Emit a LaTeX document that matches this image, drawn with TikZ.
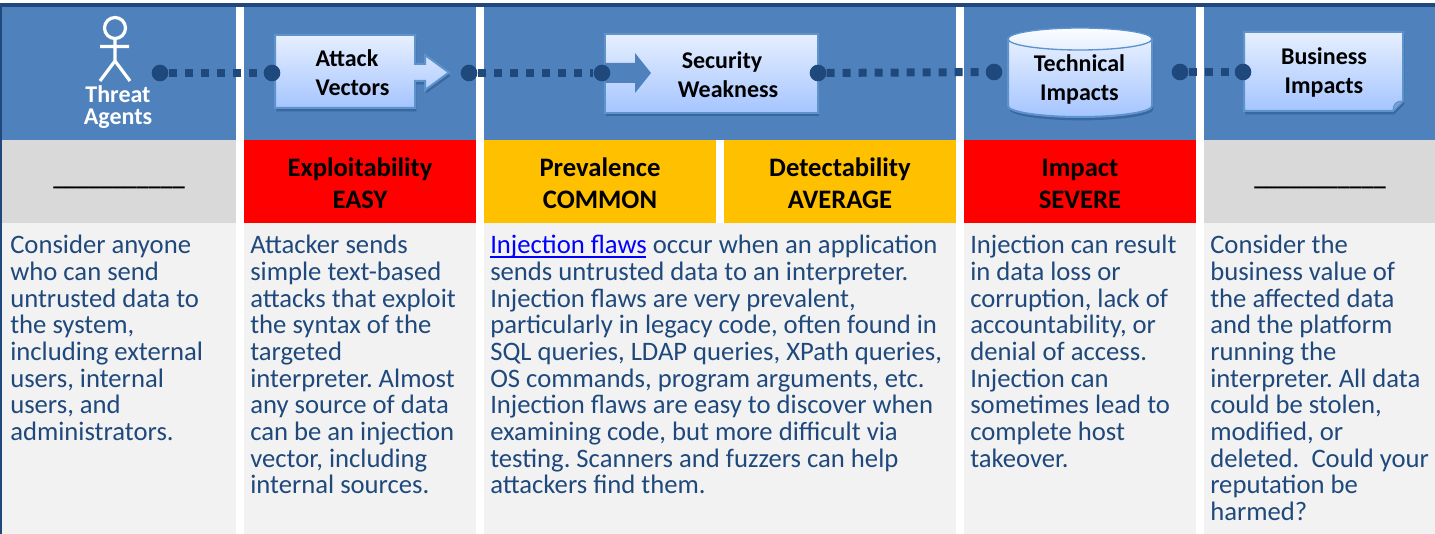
\documentclass[tikz,border=0pt]{standalone}
\usepackage{fontspec}
\setmainfont{Carlito}
\usetikzlibrary{shadows}
\definecolor{hdr}{HTML}{4F81BD}
\definecolor{navy}{HTML}{1F497D}
\definecolor{pale}{HTML}{F2F2F2}
\definecolor{midgray}{HTML}{D9D9D9}
\definecolor{amber}{HTML}{FFC000}
\definecolor{gradtop}{HTML}{E6EFFF}
\definecolor{gradbot}{HTML}{A5C5FF}
\definecolor{edgeblue}{HTML}{5E93CC}
\tikzset{
  x=0.75pt,y=-0.75pt,
  band/.style={inner sep=0,outer sep=0,draw=none},
  bodytext/.style={anchor=north west,align=left,inner sep=0,text=navy,font=\fontsize{20}{20}\selectfont\frenchspacing},
  ratetext/.style={align=center,inner sep=0,text=black,font=\bfseries\fontsize{20}{24}\selectfont},
  blanktext/.style={align=center,inner sep=0,text=black,font=\bfseries\fontsize{18}{18}\selectfont},
  shapetext/.style={align=center,inner sep=0,text=black,font=\bfseries\fontsize{18}{22}\selectfont},
  glossy/.style={top color=gradtop,bottom color=gradbot,draw=edgeblue,line width=1.5pt,
    drop shadow={shadow xshift=1pt,shadow yshift=-2.5pt,fill=navy,opacity=.45}},
  dot/.style={circle,fill=navy,inner sep=0,minimum size=12.5pt},
  link/.style={draw=navy,line width=6pt,dash pattern=on 6pt off 6pt},
}
\newcommand{\rect}[5]{\fill[#5] (#1,#2) rectangle (#3,#4);}
\begin{document}
\begin{tikzpicture}
\useasboundingbox (0,0) rectangle (1435,534);
\fill[white] (0,0) rectangle (1435,534);
% frame
\fill[navy] (0,3) rectangle (1435,7);
\fill[navy] (0,3) rectangle (2,534);
% headers
\rect{2}{7}{236}{140}{hdr}
\rect{244}{7}{476}{140}{hdr}
\rect{484}{7}{956}{140}{hdr}
\rect{964}{7}{1196}{140}{hdr}
\rect{1204}{7}{1435}{140}{hdr}
% rating row
\rect{2}{140}{236}{223}{midgray}
\rect{244}{140}{476}{223}{red}
\rect{484}{140}{716}{223}{amber}
\rect{724}{140}{956}{223}{amber}
\rect{964}{140}{1196}{223}{red}
\rect{1204}{140}{1435}{223}{midgray}
% body row
\rect{2}{223}{236}{534}{pale}
\rect{244}{223}{476}{534}{pale}
\rect{484}{223}{956}{534}{pale}
\rect{964}{223}{1196}{534}{pale}
\rect{1204}{223}{1435}{534}{pale}
% stick figure
\draw[white,line width=2.4pt] (115,28) circle (10.5);
\draw[white,line width=2.4pt] (115,39) -- (115,61) (100,46.5) -- (129,46.5) (100,81) -- (115,61) -- (130,81);
\node[band,text=white,align=center,font=\bfseries\fontsize{18}{16.5}\selectfont] (threat) at (118,107) {Threat\\Agents};
% attack vectors box with arrow
\path[glossy] (275,35) -- (415,35) -- (415,64) -- (425,64) -- (425,55) -- (449,72.5) -- (425,90) -- (425,81) -- (415,81) -- (415,108) -- (275,108) -- cycle;
\node[shapetext,align=left] (attack) at (352.5,72.5) {Attack\\Vectors};
% security weakness box
\path[glossy] (605,34) rectangle (818,113);
\fill[hdr] (605,63) -- (635,63) -- (635,53) -- (651,73) -- (635,93) -- (635,83) -- (605,83) -- cycle;
\node[shapetext] (security) at (728,74.5) {Security\hspace*{9pt}\\Weakness};
% technical impacts cylinder
\path[glossy] (1008,39) -- (1152,39) -- (1152,106) arc[start angle=0,end angle=180,x radius=72,y radius=11] -- cycle;
\path[top color=white!85!gradtop,bottom color=gradtop,draw=edgeblue,line width=1pt] (1080,39) ellipse [x radius=72,y radius=11];
\node[shapetext] (technical) at (1079.5,79.5) {Technical\\Impacts};
% business impacts note
\path[glossy] (1244,32) -- (1403,32) -- (1403,101) -- (1393,111) -- (1244,111) -- cycle;
\path[fill=gradbot!70!navy,draw=edgeblue,line width=.8pt] (1403,101) .. controls (1396,101) and (1393,104) .. (1393,111) -- cycle;
\node[shapetext] (business) at (1324,72.5) {Business\\Impacts};
% connector dots
\node[dot] (d1) at (160,73) {};
\node[dot] (d2) at (272,73) {};
\node[dot] (d3) at (469,73) {};
\node[dot] (d4) at (602,73) {};
\node[dot] (d5) at (818,73) {};
\node[dot] (d6) at (994,72) {};
\node[dot] (d7) at (1180,72) {};
\node[dot] (d8) at (1243,72) {};
\draw[link] (d1) -- (d2);
\draw[link] (d3) -- (d4);
\draw[link] (d5) -- (d6);
\draw[link] (d7) -- (d8);
% ratings
\node[blanktext] (blank1) at (119,187) {\_\_\_\_\_\_\_\_\_\_\_};
\node[ratetext] (expl) at (360,183) {Exploitability\\EASY};
\node[ratetext] (prev) at (600,183) {Prevalence\\COMMON};
\node[ratetext] (detect) at (840,183) {Detectability\\AVERAGE};
\node[ratetext] (impact) at (1080,184) {Impact\\SEVERE};
\node[blanktext] (blank2) at (1320,187) {\_\_\_\_\_\_\_\_\_\_\_};
% bodies
\node[bodytext] (b1) at (10,235) {Consider anyone\\who can send\\untrusted data to\\the system,\\including external\\users, internal\\users, and\\administrators.};
\node[bodytext] (b2) at (250,235) {Attacker sends\\simple text-based\\attacks that exploit\\the syntax of the\\targeted\\interpreter. Almost\\any source of data\\can be an injection\\vector, including\\internal sources.};
\node[bodytext] (b3) at (490,235) {\textcolor{blue}{Injection flaws} occur when an application\\sends untrusted data to an interpreter.\\Injection flaws are very prevalent,\\particularly in legacy code, often found in\\SQL queries, LDAP queries, XPath queries,\\OS commands, program arguments, etc.\\Injection flaws are easy to discover when\\examining code, but more difficult via\\testing. Scanners and fuzzers can help\\attackers find them.};
\fill[blue] (490,256.5) rectangle (646,258);
\node[bodytext] (b4) at (970,235) {Injection can result\\in data loss or\\corruption, lack of\\accountability, or\\denial of access.\\Injection can\\sometimes lead to\\complete host\\takeover.};
\node[bodytext] (b5) at (1210,235) {Consider the\\business value of\\the affected data\\and the platform\\running the\\interpreter. All data\\could be stolen,\\modified, or\\deleted.\ \ Could your\\reputation be\\harmed?};
\end{tikzpicture}
\end{document}
